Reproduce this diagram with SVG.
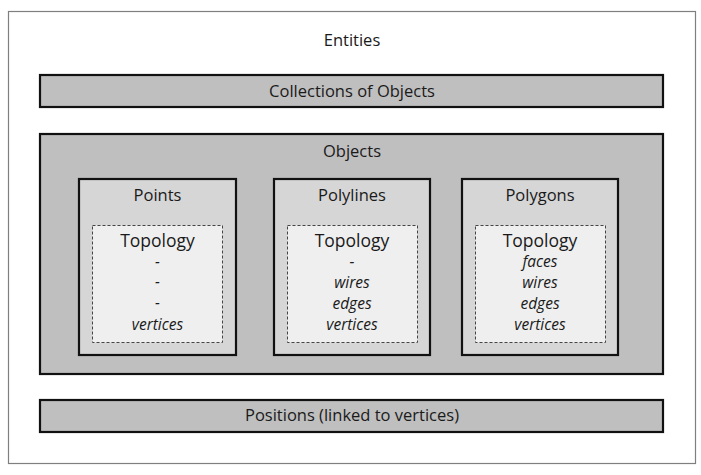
<svg xmlns="http://www.w3.org/2000/svg" width="701" height="475" viewBox="0 0 701 475">
<style>
text{font-family:"Open Sans","Liberation Sans",sans-serif;fill:#1a1a1a;text-anchor:middle}
.t{font-size:16.5px}
.tp{font-size:17.5px}
.i{font-size:15.5px;font-style:italic}
.bar{fill:#bfbfbf;stroke:#111;stroke-width:2.2}
.obj{fill:#d6d6d6;stroke:#111;stroke-width:2.2}
.topo{fill:#efefef;stroke:#444;stroke-width:1;stroke-dasharray:3,2}
</style>
<rect width="701" height="475" fill="#fff"/>
<g id="entities">
<rect x="8.5" y="11.5" width="687" height="452" fill="#fff" stroke="#7f7f7f" stroke-width="1.2"/>
<text class="t" x="352" y="46">Entities</text>
</g>
<g id="collections">
<rect class="bar" x="40" y="75" width="623" height="32"/>
<text class="t" x="352" y="97">Collections of Objects</text>
</g>
<g id="objects">
<rect class="bar" x="40" y="134" width="623" height="240"/>
<text class="t" x="352" y="157">Objects</text>
</g>
<g id="points">
<rect class="obj" x="79" y="179" width="157" height="176"/>
<text class="t" x="157.5" y="201">Points</text>
<rect class="topo" x="92.5" y="225.5" width="130" height="117"/>
<text class="tp" x="157.5" y="247">Topology</text>
<text class="i" x="157.5" y="267">-</text>
<text class="i" x="157.5" y="287">-</text>
<text class="i" x="157.5" y="308">-</text>
<text class="i" x="157.5" y="330">vertices</text>
</g>
<g id="polylines">
<rect class="obj" x="274" y="179" width="156" height="176"/>
<text class="t" x="352" y="201">Polylines</text>
<rect class="topo" x="287.5" y="225.5" width="130" height="117"/>
<text class="tp" x="352" y="247">Topology</text>
<text class="i" x="352" y="267">-</text>
<text class="i" x="352" y="288">wires</text>
<text class="i" x="352" y="309">edges</text>
<text class="i" x="352" y="330">vertices</text>
</g>
<g id="polygons">
<rect class="obj" x="462" y="179" width="156" height="176"/>
<text class="t" x="540" y="201">Polygons</text>
<rect class="topo" x="475.5" y="225.5" width="130" height="117"/>
<text class="tp" x="540" y="247">Topology</text>
<text class="i" x="540" y="267">faces</text>
<text class="i" x="540" y="288">wires</text>
<text class="i" x="540" y="309">edges</text>
<text class="i" x="540" y="330">vertices</text>
</g>
<g id="positions">
<rect class="bar" x="40" y="400" width="623" height="32"/>
<text class="t" x="352" y="421">Positions (linked to vertices)</text>
</g>
<g id="connectors"></g>
</svg>
